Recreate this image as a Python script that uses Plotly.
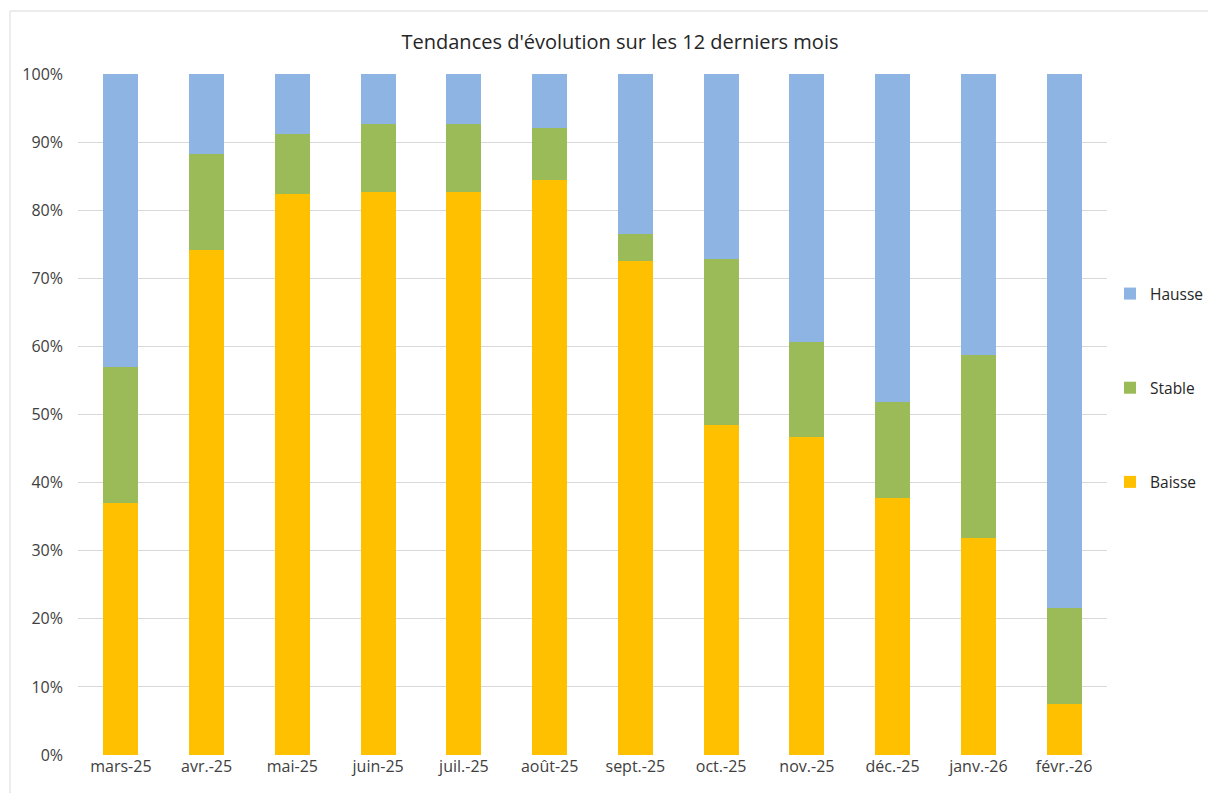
import plotly.graph_objects as go

months = ["mars-25", "avr.-25", "mai-25", "juin-25", "juil.-25", "août-25",
          "sept.-25", "oct.-25", "nov.-25", "déc.-25", "janv.-26", "févr.-26"]
baisse = [37.0, 74.2, 82.4, 82.7, 82.7, 84.4, 72.5, 48.5, 46.7, 37.7, 31.9, 7.5]
stable = [20.0, 14.1, 8.8, 10.0, 10.0, 7.7, 4.0, 24.3, 13.9, 14.1, 26.8, 14.1]
hausse = [43.0, 11.7, 8.8, 7.3, 7.3, 7.9, 23.5, 27.2, 39.4, 48.2, 41.3, 78.4]
tick_vals = [0, 10, 20, 30, 40, 50, 60, 70, 80, 90, 100]
tick_text = [f"{v}%" for v in tick_vals]

FONT = "Open Sans"
fig = go.Figure()
for name, vals, col, rank in [("Baisse", baisse, "#FFC000", 3),
                              ("Stable", stable, "#9BBB59", 2),
                              ("Hausse", hausse, "#8DB4E2", 1)]:
    fig.add_trace(go.Bar(x=months, y=vals, name=name, legendgroup=name, legendrank=rank,
                         marker=dict(color=col, line=dict(width=0))))

W, H = 1208, 793
L, R, T, B = 78, 1107, 74, 755
pw, ph = R - L, B - T

fig.update_layout(
    width=W, height=H,
    barmode="stack", bargap=0.59,
    paper_bgcolor="white", plot_bgcolor="white",
    margin=dict(l=L, r=W - R, t=T, b=H - B, pad=0, autoexpand=False),
    title=dict(text="Tendances d'évolution sur les 12 derniers mois",
               x=(620 - L) / pw, xref="paper", xanchor="center",
               y=1 - 42 / H, yanchor="middle",
               font=dict(family=FONT, size=20, color="#262626")),
    font=dict(family=FONT, size=16, color="#404040"),
    xaxis=dict(showgrid=False, showline=False, ticks="", tickfont=dict(size=16, color="#404040")),
    yaxis=dict(range=[0, 100], tickvals=tick_vals, ticktext=tick_text,
               showgrid=True, gridcolor="#D9D9D9", gridwidth=1,
               zeroline=False, showline=False, ticks="", ticklabelstandoff=14,
               tickfont=dict(size=16, color="#404040")),
    legend=dict(traceorder="grouped", tracegroupgap=71,
                x=(1110 - L) / pw, xanchor="left",
                y=(B - 388) / ph, yanchor="middle",
                font=dict(family=FONT, size=15.5, color="#262626"),
                bgcolor="rgba(0,0,0,0)", borderwidth=0),
    shapes=[dict(type="rect", xref="paper", yref="paper",
                 x0=(10 - L) / pw, x1=1.6, y0=-0.5, y1=(B - 11) / ph,
                 line=dict(color="#D9D9D9", width=1), fillcolor="rgba(0,0,0,0)",
                 layer="below")],
)

fig.write_html("out.html", config={"displayModeBar": False},
               post_script="document.body.style.margin='0';document.body.style.overflow='hidden';")
